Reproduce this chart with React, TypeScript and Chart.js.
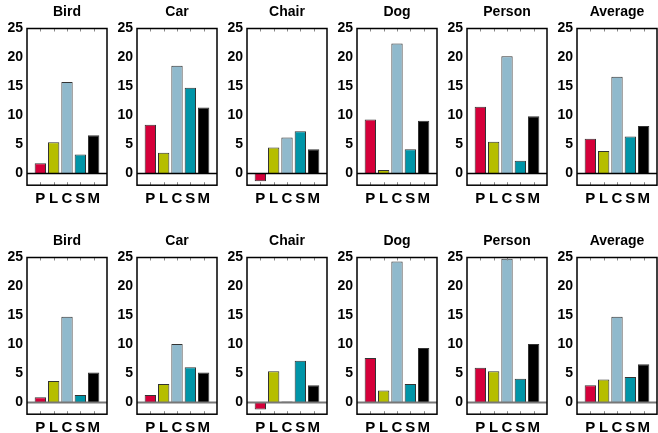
import React, { useEffect, useRef } from "react";
import { Chart, registerables } from "chart.js";

Chart.register(...registerables);

const panelTitles = ["Bird", "Car", "Chair", "Dog", "Person", "Average"];
const methodLabels = ["P", "L", "C", "S", "M"];
const methodColors = ["#d5003a", "#b6be00", "#8fb9cc", "#0095a8", "#000000"];
const yTicks = [0, 5, 10, 15, 20, 25];

// top row
const topBird = [1.8, 5.4, 15.8, 3.3, 6.6];
const topCar = [8.4, 3.6, 18.6, 14.8, 11.4];
const topChair = [-1.3, 4.5, 6.2, 7.3, 4.2];
const topDog = [9.3, 0.6, 22.4, 4.2, 9.1];
const topPerson = [11.5, 5.5, 20.2, 2.2, 9.9];
const topAverage = [6.0, 3.9, 16.7, 6.4, 8.2];

// bottom row
const bottomBird = [0.9, 3.7, 14.8, 1.3, 5.2];
const bottomCar = [1.3, 3.2, 10.1, 6.1, 5.2];
const bottomChair = [-1.2, 5.4, 0.2, 7.2, 3.0];
const bottomDog = [7.7, 2.1, 24.3, 3.2, 9.4];
const bottomPerson = [6.0, 5.4, 24.8, 4.1, 10.1];
const bottomAverage = [3.0, 4.0, 14.8, 4.4, 6.6];

const rows = [
  { values: [topBird, topCar, topChair, topDog, topPerson, topAverage], zeroColor: "#000000", zeroWidth: 1.5 },
  { values: [bottomBird, bottomCar, bottomChair, bottomDog, bottomPerson, bottomAverage], zeroColor: "#777777", zeroWidth: 2 },
];

const FONT = "'Liberation Sans', Arial, Helvetica, sans-serif";
const CANVAS_W = 112;
const CANVAS_H = 229;
const COL_STEP = 110;
const ROW_STEP = 229;

const framePlugin = {
  id: "frame",
  afterDatasetsDraw(chart: any, _args: any, opts: any) {
    const { ctx, chartArea: a, scales } = chart;
    const y0 = scales.y.getPixelForValue(0);
    ctx.save();
    ctx.strokeStyle = opts.zeroColor;
    ctx.lineWidth = opts.zeroWidth;
    ctx.beginPath();
    ctx.moveTo(a.left, y0);
    ctx.lineTo(a.right, y0);
    ctx.stroke();
    ctx.strokeStyle = "#888888";
    ctx.lineWidth = 1;
    for (let i = 1; i <= methodLabels.length; i++) {
      const x = Math.round(scales.x.getPixelForValue(i)) + 0.5;
      ctx.beginPath();
      ctx.moveTo(x, a.top);
      ctx.lineTo(x, a.top + 3);
      ctx.moveTo(x, a.bottom);
      ctx.lineTo(x, a.bottom - 3);
      ctx.stroke();
    }
    ctx.strokeStyle = "#000000";
    ctx.lineWidth = 1.5;
    ctx.strokeRect(a.left, a.top, a.right - a.left, a.bottom - a.top);
    ctx.restore();
  },
};

function Panel({ title, values, zeroColor, zeroWidth, left, top }: any) {
  const ref = useRef<HTMLCanvasElement>(null);
  useEffect(() => {
    const labels = ["", ...methodLabels, ""];
    const data = [null, ...values, null];
    const colors = ["#fff", ...methodColors, "#fff"];
    const chart = new Chart(ref.current as HTMLCanvasElement, {
      type: "bar",
      data: {
        labels,
        datasets: [
          {
            data,
            backgroundColor: colors,
            borderColor: "#333333",
            borderWidth: 1,
            barPercentage: 0.85,
            categoryPercentage: 1,
          },
        ],
      },
      options: {
        animation: false,
        responsive: false,
        devicePixelRatio: 1,
        layout: { padding: { left: 0, right: 2, top: 0, bottom: 0 } },
        plugins: {
          legend: { display: false },
          tooltip: { enabled: false },
          title: {
            display: true,
            text: title,
            color: "#000",
            fullSize: false,
            font: { family: FONT, size: 14, weight: "bold" },
            padding: { top: 4, bottom: 7.7 },
          },
          frame: { zeroColor, zeroWidth },
        } as any,
        scales: {
          x: {
            type: "category",
            offset: false,
            grid: { display: false, drawTicks: false },
            border: { display: false },
            ticks: {
              color: "#000",
              font: { family: FONT, size: 15, weight: "bold" },
              padding: 5,
              autoSkip: false,
              maxRotation: 0,
            },
            afterFit: (s: any) => {
              s.height = 43.8;
            },
          },
          y: {
            type: "linear",
            min: -2,
            max: 25,
            grid: { display: false, drawTicks: false },
            border: { display: false },
            ticks: {
              color: "#000",
              font: { family: FONT, size: 14, weight: "bold" },
              padding: 4,
            },
            afterBuildTicks: (s: any) => {
              s.ticks = yTicks.map((v) => ({ value: v }));
            },
            afterFit: (s: any) => {
              s.width = 27;
            },
          },
        },
      },
      plugins: [framePlugin],
    });
    return () => chart.destroy();
  }, [title, values, zeroColor, zeroWidth]);
  return (
    <canvas
      ref={ref}
      width={CANVAS_W}
      height={CANVAS_H}
      style={{ position: "absolute", left, top, width: CANVAS_W, height: CANVAS_H }}
    />
  );
}

export default function App() {
  return (
    <div
      style={{
        position: "absolute",
        left: 0,
        top: 0,
        width: 658,
        height: 433,
        overflow: "hidden",
        background: "#fff",
      }}
    >
      {rows.map((row, r) =>
        row.values.map((vals, c) => (
          <Panel
            key={`${r}-${c}`}
            title={panelTitles[c]}
            values={vals}
            zeroColor={row.zeroColor}
            zeroWidth={row.zeroWidth}
            left={c * COL_STEP}
            top={r * ROW_STEP}
          />
        ))
      )}
    </div>
  );
}
